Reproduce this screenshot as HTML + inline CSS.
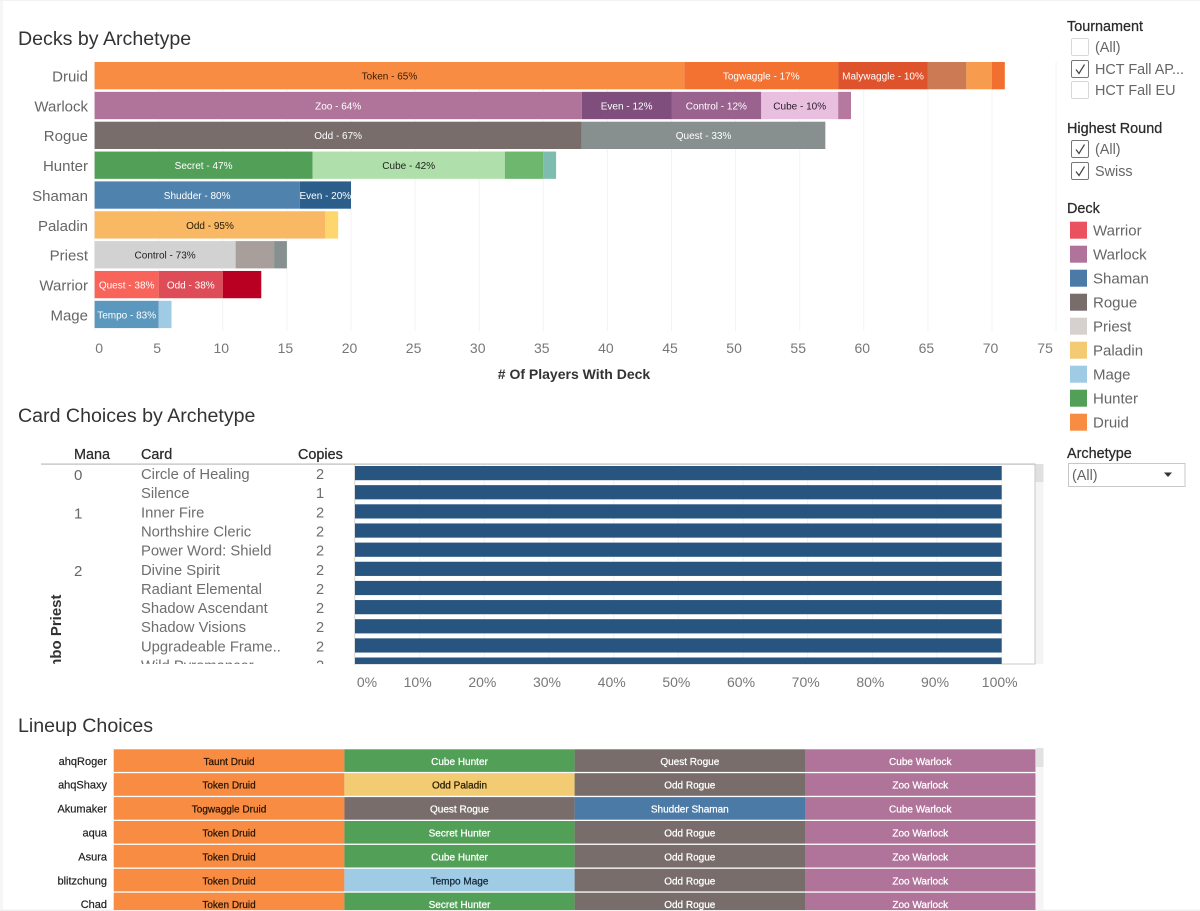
<!DOCTYPE html>
<html lang="en">
<head>
<meta charset="utf-8">
<title>Hearthstone Deck Dashboard</title>
<style>
html,body{margin:0;padding:0;background:#fff;width:1200px;height:911px;overflow:hidden}
svg{display:block;font-family:"Liberation Sans",sans-serif;filter:blur(0.25px)}
.ttl{font-size:19.6px;fill:#333}
.hdr{font-size:14.4px;fill:#2a2a2a;stroke:#2a2a2a;stroke-width:0.25px}
.lab{font-size:14.4px;fill:#666}
.leg{font-size:15px;fill:#666}
.tick{font-size:14px;fill:#777}
</style>
</head>
<body>
<svg id="dash" xmlns="http://www.w3.org/2000/svg" width="1200" height="911" viewBox="0 0 1200 911">
  <defs>
    <clipPath id="cardClip"><rect x="0" y="464" width="1036" height="200"/></clipPath>
    <clipPath id="lineupClip"><rect x="0" y="749" width="1036" height="161"/></clipPath>
  </defs>
  <rect x="0" y="0" width="3" height="911" fill="#f6f6f6"/>
  <rect x="0" y="0" width="1200" height="1" fill="#f2f2f2"/>
  <rect x="0" y="909.5" width="1200" height="1.5" fill="#f0f0f0"/>

  <text class="ttl" x="18" y="45">Decks by Archetype</text>
  <g id="deckGrid"></g>
  <g id="deckBars"></g>
  <g id="deckCats"></g>
  <g id="deckTicks"></g>
  <text x="574" y="379" text-anchor="middle" font-size="14" font-weight="bold" fill="#333"># Of Players With Deck</text>

  <text class="ttl" x="18" y="422">Card Choices by Archetype</text>
  <text class="hdr" x="74" y="459">Mana</text>
  <text class="hdr" x="141" y="459">Card</text>
  <text class="hdr" x="298" y="459">Copies</text>
  <rect x="354.5" y="464" width="680.5" height="200" fill="#fff" stroke="#c8c8c8" stroke-width="1"/>
  <rect x="41" y="463.5" width="994" height="1.2" fill="#bdbdbd"/>
  <g id="cardGrid"></g>
  <g clip-path="url(#cardClip)">
    <g id="cardRows"></g>
    <text transform="translate(61,666) rotate(-90)" x="-26" y="0" font-size="15" font-weight="bold" fill="#333">Combo Priest</text>
  </g>
  <rect x="1035.5" y="464" width="8" height="200" fill="#f4f4f4"/>
  <rect x="1035.5" y="464" width="8" height="18" fill="#e0e0e0"/>
  <g id="cardTicks"></g>

  <text class="ttl" x="18" y="732">Lineup Choices</text>
  <g clip-path="url(#lineupClip)">
    <g id="lineupRows"></g>
  </g>
  <rect x="1036" y="748" width="7.5" height="162" fill="#f5f5f8"/>
  <rect x="1036" y="748" width="7.5" height="19" fill="#e2e2e2"/>

  <g>
    <text class="hdr" x="1067" y="31">Tournament</text>
    <g>
      <rect x="1071.5" y="38.5" width="17" height="17" rx="1.5" fill="#fff" stroke="#d8d8d8"/>
      <text class="lab" x="1095" y="52">(All)</text>
    </g>
    <g>
      <rect x="1071.5" y="60.5" width="17" height="17" rx="1.5" fill="#fff" stroke="#777"/>
      <path d="M1076 69.5l3 4 5.5-9" fill="none" stroke="#444" stroke-width="1.2"/>
      <text class="lab" x="1095" y="74">HCT Fall AP...</text>
    </g>
    <g>
      <rect x="1071.5" y="81.5" width="17" height="17" rx="1.5" fill="#fff" stroke="#d8d8d8"/>
      <text class="lab" x="1095" y="95">HCT Fall EU</text>
    </g>
  </g>
  <g>
    <text class="hdr" x="1067" y="133">Highest Round</text>
    <g>
      <rect x="1071.5" y="140.5" width="17" height="17" rx="1.5" fill="#fff" stroke="#777"/>
      <path d="M1076 149.5l3 4 5.5-9" fill="none" stroke="#444" stroke-width="1.2"/>
      <text class="lab" x="1095" y="154">(All)</text>
    </g>
    <g>
      <rect x="1071.5" y="162.5" width="17" height="17" rx="1.5" fill="#fff" stroke="#777"/>
      <path d="M1076 171.5l3 4 5.5-9" fill="none" stroke="#444" stroke-width="1.2"/>
      <text class="lab" x="1095" y="176">Swiss</text>
    </g>
  </g>
  <text class="hdr" x="1067" y="213">Deck</text>
  <g id="deckLegend"></g>
  <g>
    <text class="hdr" x="1067" y="458">Archetype</text>
    <g>
      <rect x="1068.5" y="463.5" width="116.5" height="23" fill="#fff" stroke="#c8c8c8"/>
      <text class="lab" x="1072" y="480">(All)</text>
      <path d="M1164 472.5h8l-4 4.5z" fill="#333"/>
    </g>
  </g>
</svg>
<script>
/* ---------- Decks by Archetype data ---------- */
const classNames = ["Druid","Warlock","Rogue","Hunter","Shaman","Paladin","Priest","Warrior","Mage"];
const druidCounts = [46,12,7,3,2,1];
const warlockCounts = [38,7,7,6,1];
const rogueCounts = [38,19];
const hunterCounts = [17,15,3,1];
const shamanCounts = [16,4];
const paladinCounts = [18,1];
const priestCounts = [11,3,1];
const warriorCounts = [5,5,3];
const mageCounts = [5,1];
const druidLabels = ["Token - 65%","Togwaggle - 17%","Malywaggle - 10%","","",""];
const warlockLabels = ["Zoo - 64%","Even - 12%","Control - 12%","Cube - 10%",""];
const rogueLabels = ["Odd - 67%","Quest - 33%"];
const hunterLabels = ["Secret - 47%","Cube - 42%","",""];
const shamanLabels = ["Shudder - 80%","Even - 20%"];
const paladinLabels = ["Odd - 95%",""];
const priestLabels = ["Control - 73%","",""];
const warriorLabels = ["Quest - 38%","Odd - 38%",""];
const mageLabels = ["Tempo - 83%",""];
const deckCounts = [druidCounts,warlockCounts,rogueCounts,hunterCounts,shamanCounts,paladinCounts,priestCounts,warriorCounts,mageCounts];
const deckLabels = [druidLabels,warlockLabels,rogueLabels,hunterLabels,shamanLabels,paladinLabels,priestLabels,warriorLabels,mageLabels];
const deckTicks = [0,5,10,15,20,25,30,35,40,45,50,55,60,65,70,75];
/* colours per segment */
const deckFills = [
  ["#f78c42","#f37232","#df532c","#cb7a53","#f79b4e","#f17030"],
  ["#b0749b","#7f4e7d","#99628f","#e8bfdf","#b5789e"],
  ["#786d6b","#88908f"],
  ["#52a058","#afe0ab","#6db86e","#7fbcb0"],
  ["#4f83ad","#2b5e8a"],
  ["#f9b864","#fdd66e"],
  ["#d2d2d2","#a89e9b","#86918f"],
  ["#f8635a","#de4d57","#b90023"],
  ["#5c98bd","#9fcbe4"]
];
const deckInks = [
  ["#3a1a05","#fff","#fff","#fff","#fff","#fff"],
  ["#fff","#fff","#fff","#2a1a28","#fff"],
  ["#fff","#fff"],
  ["#fff","#222","#fff","#fff"],
  ["#fff","#fff"],
  ["#2a1a05","#222"],
  ["#222","#222","#222"],
  ["#fff","#fff","#fff"],
  ["#fff","#222"]
];

/* ---------- Card Choices data ---------- */
const cardNames = ["Circle of Healing","Silence","Inner Fire","Northshire Cleric","Power Word: Shield","Divine Spirit","Radiant Elemental","Shadow Ascendant","Shadow Visions","Upgradeable Frame..","Wild Pyromancer"];
const cardMana = ["0","","1","","","2","","","","",""];
const cardCopies = [2,1,2,2,2,2,2,2,2,2,2];
const cardShare = [100,100,100,100,100,100,100,100,100,100,100];
const cardTicks = [0,10,20,30,40,50,60,70,80,90,100];

/* ---------- Lineup data ---------- */
const players = ["ahqRoger","ahqShaxy","Akumaker","aqua","Asura","blitzchung","Chad"];
const lineupFirst = ["Taunt Druid","Token Druid","Togwaggle Druid","Token Druid","Token Druid","Token Druid","Token Druid"];
const lineupSecond = ["Cube Hunter","Odd Paladin","Quest Rogue","Secret Hunter","Cube Hunter","Tempo Mage","Secret Hunter"];
const lineupThird = ["Quest Rogue","Odd Rogue","Shudder Shaman","Odd Rogue","Odd Rogue","Odd Rogue","Odd Rogue"];
const lineupFourth = ["Cube Warlock","Zoo Warlock","Cube Warlock","Zoo Warlock","Zoo Warlock","Zoo Warlock","Zoo Warlock"];
const legendDecks = ["Warrior","Warlock","Shaman","Rogue","Priest","Paladin","Mage","Hunter","Druid"];

/* colour lookup by class name */
const classFill = {Warrior:"#e9525e",Warlock:"#b0749b",Shaman:"#4b7aa6",Rogue:"#786d6b",Priest:"#d6d0ce",Paladin:"#f2cb72",Mage:"#9fcbe4",Hunter:"#52a058",Druid:"#f78c42"};
const classInk = {Warlock:"#fff",Shaman:"#fff",Rogue:"#fff",Hunter:"#fff",Druid:"#2a1505",Paladin:"#2a2005",Mage:"#12263a",Warrior:"#fff",Priest:"#222"};

const SVGNS = "http://www.w3.org/2000/svg";
function mk(parent, tag, attrs, txt){
  const el = document.createElementNS(SVGNS, tag);
  for (const k in attrs) el.setAttribute(k, attrs[k]);
  if (txt !== undefined) el.textContent = txt;
  parent.appendChild(el);
  return el;
}
const $ = id => document.getElementById(id);

/* axis functions */
const xDeck = v => 94.6 + v * 12.82;
const yDeck = i => 62 + i * 29.85;
const deckBarH = 27.3;
const xCard = p => 355 + p * 6.467;
const yCard = i => 466 + i * 19.15;
const yCardText = i => 479 + i * 19.15;
const yLineup = i => 749.3 + i * 23.9;
const lineupColX = [113.7,344.4,574.6,805,1035.5];

/* deck gridlines + ticks */
deckTicks.forEach(t => {
  const line = mk($("deckGrid"), "line", {x1:xDeck(t), x2:xDeck(t), y1:62, y2:331, stroke:"#f3f3f3", "stroke-width":1});
  
  
  const off = t === 0 ? 4.5 : (t === 75 ? -11 : -1.5);
  const lab = mk($("deckTicks"), "text", {class:"tick", x:xDeck(t)+off, y:353, "text-anchor":"middle"}, String(t));
  
  
});

/* stacked bars */
classNames.forEach((name, i) => {
  const cat = mk($("deckCats"), "text", {x:88, y:yDeck(i)+19.5, "text-anchor":"end", "font-size":15, fill:"#666"}, name);
  
  
  let run = 0;
  deckCounts[i].forEach((c, j) => {
    const seg = mk($("deckBars"), "rect", {x:xDeck(run), y:yDeck(i), width:xDeck(run+c)-xDeck(run), height:deckBarH, fill:deckFills[i][j]});
    
    
    if (deckLabels[i][j]) {
      const t = mk($("deckBars"), "text", {x:xDeck(run + c/2), y:yDeck(i)+17.5, "text-anchor":"middle", "font-size":10, fill:deckInks[i][j]}, deckLabels[i][j]);
      
      
    }
    run += c;
  });
});

/* card gridlines + axis */
cardTicks.forEach(t => {
  const line = mk($("cardGrid"), "line", {x1:xCard(t), x2:xCard(t), y1:465, y2:664, stroke:"#f2f2f2", "stroke-width":1});
  
  
  const off = t === 0 ? 12 : -2;
  const lab = mk($("cardTicks"), "text", {class:"tick", x:xCard(t)+off, y:687, "text-anchor":"middle"}, t + "%");
  
  
});

/* card rows */
cardNames.forEach((name, i) => {
  const bar = mk($("cardRows"), "rect", {x:xCard(0), y:yCard(i), width:xCard(cardShare[i])-xCard(0), height:14.2, fill:"#27557f"});
  
  
  if (cardMana[i] !== "") {
    const m = mk($("cardRows"), "text", {x:74, y:yCardText(i)+1, "font-size":15, fill:"#666"}, cardMana[i]);
    
    
  }
  const n = mk($("cardRows"), "text", {x:141, y:yCardText(i), "font-size":14.8, fill:"#6e6e6e"}, name);
  
  
  const cp = mk($("cardRows"), "text", {x:320, y:yCardText(i), "text-anchor":"middle", "font-size":14.6, fill:"#6e6e6e"}, String(cardCopies[i]));
  
  
});

/* lineup table */
const lineupCols = [lineupFirst, lineupSecond, lineupThird, lineupFourth];
players.forEach((p, i) => {
  const lab = mk($("lineupRows"), "text", {x:107, y:yLineup(i)+15.5, "text-anchor":"end", "font-size":11, fill:"#222", stroke:"#222", "stroke-width":0.2}, p);
  
  
  lineupCols.forEach((col, c) => {
    const cls = col[i].split(" ").pop();
    const cell = mk($("lineupRows"), "rect", {x:lineupColX[c], y:yLineup(i), width:lineupColX[c+1]-lineupColX[c], height:22.6, fill:classFill[cls]});
    
    
    const t = mk($("lineupRows"), "text", {x:(lineupColX[c]+lineupColX[c+1])/2, y:yLineup(i)+15.5, "text-anchor":"middle", "font-size":10, fill:classInk[cls], stroke:classInk[cls], "stroke-width":0.25}, col[i]);
    
    
  });
});

/* legend */
legendDecks.forEach((d, i) => {
  const sw = mk($("deckLegend"), "rect", {x:1070, y:221.7+i*24, width:17, height:17, fill:classFill[d]});
  
  
  const t = mk($("deckLegend"), "text", {class:"leg", x:1093, y:235.5+i*24}, d);
  
  
});
</script>
</body>
</html>
